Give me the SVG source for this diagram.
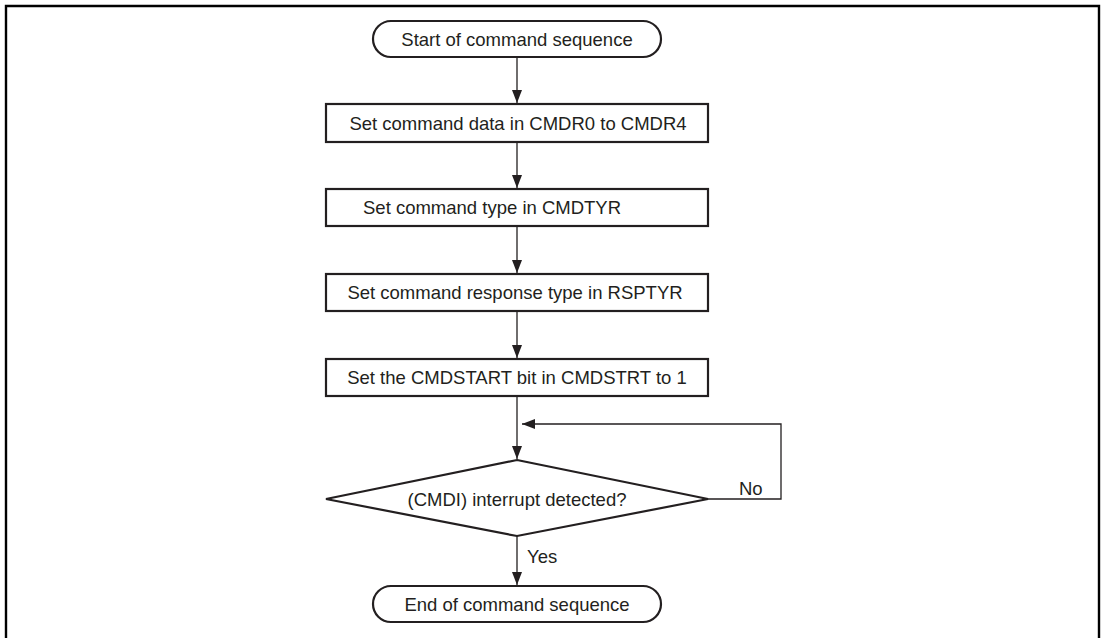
<svg xmlns="http://www.w3.org/2000/svg" width="1102" height="638" viewBox="0 0 1102 638">
<style>
.shape{fill:#fff;stroke:#231f20;stroke-width:2.2}
.conn{fill:none;stroke:#231f20;stroke-width:1.3}
.t{font-family:"Liberation Sans",Arial,sans-serif;font-size:18.5px;fill:#231f20}
.c{text-anchor:middle}
</style>
<defs>
<marker id="arr" markerUnits="userSpaceOnUse" markerWidth="13" markerHeight="10" refX="13" refY="5" orient="auto">
<path d="M0,0 L13,5 L0,10 z" fill="#231f20"/>
</marker>
</defs>
<rect width="1102" height="638" fill="#fff"/>
<path d="M6,645 V6 H1099 V645" fill="none" stroke="#000" stroke-width="2.4"/>
<g id="connectors">
<path class="conn" d="M517,57 V103" marker-end="url(#arr)"/>
<path class="conn" d="M517,142 V188" marker-end="url(#arr)"/>
<path class="conn" d="M517,226 V273" marker-end="url(#arr)"/>
<path class="conn" d="M517,311 V358" marker-end="url(#arr)"/>
<path class="conn" d="M517,396 V459" marker-end="url(#arr)"/>
<path class="conn" d="M708,499 H781 V424 H522" marker-end="url(#arr)"/>
<path class="conn" d="M517,536 V585" marker-end="url(#arr)"/>
<text class="t" x="739" y="495">No</text>
<text class="t" x="527" y="563">Yes</text>
</g>
<g id="start">
<rect class="shape" x="373" y="21" width="288" height="36" rx="18"/>
<text class="t c" x="517" y="46">Start of command sequence</text>
</g>
<g id="box1">
<rect class="shape" x="326" y="104" width="382" height="38"/>
<text class="t c" x="518" y="130">Set command data in CMDR0 to CMDR4</text>
</g>
<g id="box2">
<rect class="shape" x="326" y="189" width="382" height="37"/>
<text class="t" x="363" y="214">Set command type in CMDTYR</text>
</g>
<g id="box3">
<rect class="shape" x="326" y="274" width="382" height="37"/>
<text class="t c" x="515" y="299">Set command response type in RSPTYR</text>
</g>
<g id="box4">
<rect class="shape" x="326" y="359" width="382" height="37"/>
<text class="t c" x="517" y="384">Set the CMDSTART bit in CMDSTRT to 1</text>
</g>
<g id="decision">
<polygon class="shape" points="517,460 708,499 517,536 326,499"/>
<text class="t c" x="517" y="506">(CMDI) interrupt detected?</text>
</g>
<g id="end">
<rect class="shape" x="373" y="586" width="288" height="36" rx="18"/>
<text class="t c" x="517" y="611">End of command sequence</text>
</g>
</svg>
